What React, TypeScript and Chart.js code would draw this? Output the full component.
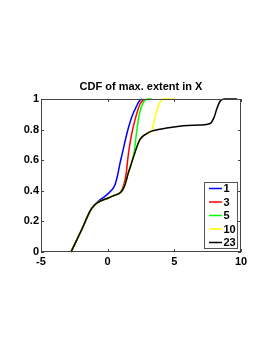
import React, { useEffect, useRef } from "react";
import { Chart, registerables } from "chart.js";

Chart.register(...registerables);

const titleText = "CDF of max. extent in X";
const seriesLabels = ["1", "3", "5", "10", "23"];
const seriesColors = ["#0000ff", "#ff0000", "#00ff00", "#ffff00", "#000000"];
const xTicks = [-5, 0, 5, 10];
const yTicks = [0, 0.2, 0.4, 0.6, 0.8, 1];

const blueX = [-2.75, -1.9, -1.3, -0.95, -0.6, -0.2, 0.25, 0.55, 0.74, 0.9, 1.08, 1.43, 1.8, 2.18, 2.4, 2.6];
const blueY = [0, 0.155, 0.27, 0.31, 0.34, 0.364, 0.4, 0.44, 0.5, 0.57, 0.638, 0.77, 0.88, 0.956, 0.99, 1];

const redX = [-2.75, -1.9, -1.3, -0.95, -0.5, 0.05, 0.5, 0.8, 0.95, 1.25, 1.4, 1.5, 1.6, 1.8, 2.1, 2.43, 2.75];
const redY = [0, 0.155, 0.27, 0.31, 0.335, 0.353, 0.37, 0.38, 0.388, 0.452, 0.52, 0.6, 0.67, 0.77, 0.88, 0.967, 1];

const greenX = [-2.75, -1.9, -1.3, -0.95, -0.5, 0.05, 0.5, 0.8, 1.05, 1.3, 1.55, 1.75, 1.9, 2.0, 2.18, 2.37, 2.68, 3.0, 3.3];
const greenY = [0, 0.155, 0.27, 0.31, 0.335, 0.353, 0.37, 0.38, 0.397, 0.44, 0.518, 0.57, 0.62, 0.66, 0.79, 0.9, 0.978, 1, 1];

const yellowX = [-2.75, -1.9, -1.3, -0.95, -0.5, 0.05, 0.5, 0.8, 1.05, 1.3, 1.55, 1.75, 2.0, 2.2, 2.43, 2.93, 3.3, 3.55, 3.8, 4.18, 5.05];
const yellowY = [0, 0.155, 0.27, 0.31, 0.335, 0.353, 0.37, 0.38, 0.397, 0.44, 0.518, 0.57, 0.638, 0.69, 0.737, 0.774, 0.79, 0.88, 0.956, 1, 1];

const blackX = [-2.75, -1.9, -1.3, -0.95, -0.5, 0.05, 0.5, 0.8, 1.05, 1.3, 1.55, 1.75, 2.0, 2.2, 2.43, 2.93, 3.3, 4.43, 5.68, 6.93, 7.68, 7.98, 8.18, 8.43, 8.73, 9.7];
const blackY = [0, 0.155, 0.27, 0.31, 0.335, 0.353, 0.37, 0.38, 0.397, 0.44, 0.518, 0.57, 0.638, 0.69, 0.737, 0.774, 0.79, 0.81, 0.825, 0.83, 0.84, 0.88, 0.934, 0.985, 1, 1];

const seriesX = [blueX, redX, greenX, yellowX, blackX];
const seriesY = [blueY, redY, greenY, yellowY, blackY];

const FONT = "Liberation Sans, Arial, Helvetica, sans-serif";

export default function App() {
  const ref = useRef<HTMLCanvasElement | null>(null);

  useEffect(() => {
    document.body.style.margin = "0";
    const canvas = ref.current;
    if (!canvas) return;

    const decor = {
      id: "decor",
      afterDraw(chart: any) {
        const ctx = chart.ctx;
        const { left, right, top, bottom } = chart.chartArea;
        const xs = chart.scales.x;
        const ys = chart.scales.y;
        ctx.save();
        ctx.fillStyle = "#000";
        ctx.font = `bold 11px ${FONT}`;
        ctx.textAlign = "center";
        ctx.textBaseline = "middle";
        ctx.fillText(titleText, (left + right) / 2, 87);
        ctx.strokeStyle = "#444";
        ctx.lineWidth = 1;
        ctx.strokeRect(left + 0.5, top + 0.5, right - left - 1, bottom - top - 1);
        const tl = 3;
        ctx.beginPath();
        xTicks.forEach((v) => {
          const px = Math.round(xs.getPixelForValue(v)) + 0.5;
          ctx.moveTo(px, bottom);
          ctx.lineTo(px, bottom - tl);
          ctx.moveTo(px, top);
          ctx.lineTo(px, top + tl);
        });
        yTicks.forEach((v) => {
          const py = Math.round(ys.getPixelForValue(v)) + 0.5;
          ctx.moveTo(left, py);
          ctx.lineTo(left + tl, py);
          ctx.moveTo(right, py);
          ctx.lineTo(right - tl, py);
        });
        ctx.stroke();
        const lx = 204, ly = 182, lw = 33, lh = 66;
        ctx.fillStyle = "#fff";
        ctx.fillRect(lx, ly, lw, lh);
        ctx.strokeStyle = "#555";
        ctx.strokeRect(lx + 0.5, ly + 0.5, lw, lh);
        ctx.font = `bold 11px ${FONT}`;
        ctx.textAlign = "left";
        ctx.textBaseline = "middle";
        seriesLabels.forEach((lab, i) => {
          const cy = 188.5 + i * 13.5;
          ctx.strokeStyle = seriesColors[i];
          ctx.lineWidth = 1.5;
          ctx.beginPath();
          ctx.moveTo(209, cy);
          ctx.lineTo(222, cy);
          ctx.stroke();
          ctx.fillStyle = "#000";
          ctx.fillText(lab, 223.5, cy + 0.5);
        });
        ctx.restore();
      },
    };

    const datasets = seriesLabels.map((lab, i) => ({
      label: lab,
      data: seriesX[i].map((x, j) => ({ x, y: seriesY[i][j] })),
      borderColor: seriesColors[i],
      backgroundColor: seriesColors[i],
      borderWidth: 1.5,
      pointRadius: 0,
      showLine: true,
      cubicInterpolationMode: "monotone" as const,
      order: seriesLabels.length - i,
      clip: 4,
    }));

    const chart = new Chart(canvas, {
      type: "scatter",
      data: { datasets },
      options: {
        responsive: false,
        animation: false,
        layout: { padding: { left: 0, top: 99, right: 32, bottom: 0 } },
        plugins: {
          legend: { display: false },
          title: { display: false },
          tooltip: { enabled: false },
        },
        scales: {
          x: {
            type: "linear",
            min: -5,
            max: 10,
            afterBuildTicks: (s: any) => {
              s.ticks = xTicks.map((v) => ({ value: v }));
            },
            grid: { display: false, drawTicks: false, tickLength: 0 },
            border: { display: false },
            ticks: {
              color: "#000",
              font: { family: FONT, size: 11, weight: "bold" },
              padding: 3,
              maxRotation: 0,
              callback: (v: any) => String(v),
            },
            afterFit: (s: any) => {
              s.height = 353 - 252;
            },
          },
          y: {
            type: "linear",
            min: 0,
            max: 1,
            afterBuildTicks: (s: any) => {
              s.ticks = yTicks.map((v) => ({ value: v }));
            },
            grid: { display: false, drawTicks: false, tickLength: 0 },
            border: { display: false },
            ticks: {
              color: "#000",
              font: { family: FONT, size: 11, weight: "bold" },
              padding: 2,
              callback: (v: any) => String(Math.round(v * 10) / 10),
            },
            afterFit: (s: any) => {
              s.width = 41;
            },
          },
        },
      },
      plugins: [decor],
    });

    return () => chart.destroy();
  }, []);

  return <canvas ref={ref} width={273} height={353} style={{ display: "block" }} />;
}
